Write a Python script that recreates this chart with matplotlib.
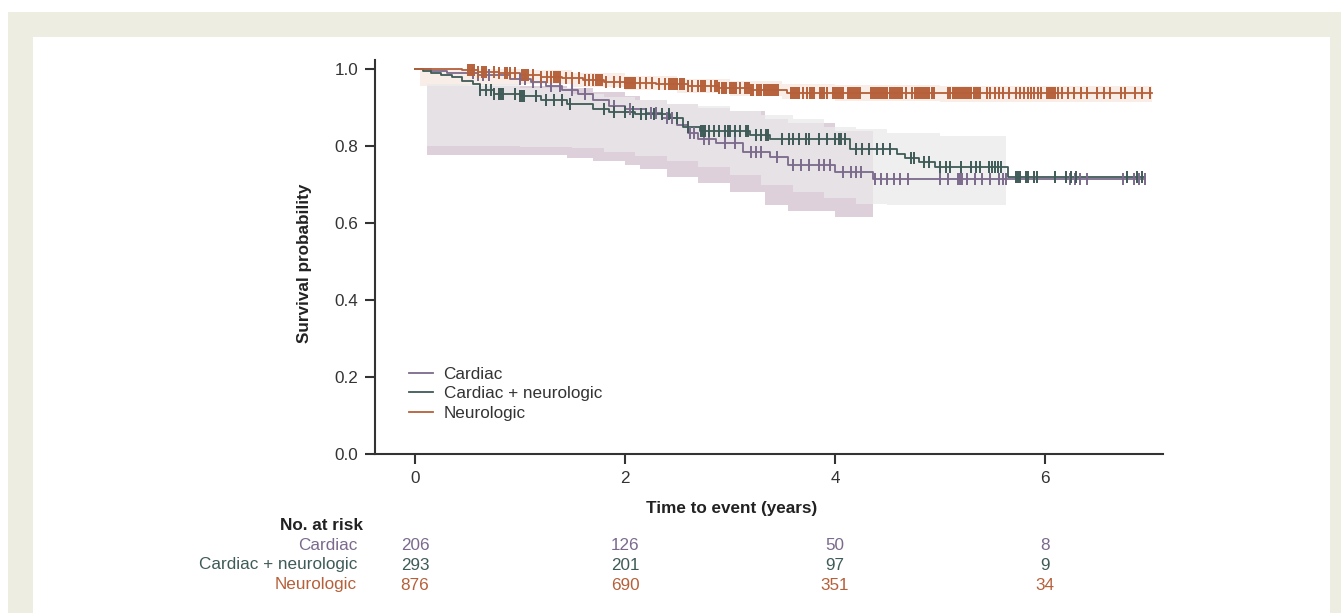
import numpy as np
import matplotlib
matplotlib.use('Agg')
import matplotlib.pyplot as plt
import matplotlib.transforms as mtransforms
from matplotlib.patches import Rectangle

plt.rcParams['font.family'] = ['Liberation Sans', 'DejaVu Sans']

# Kaplan-Meier steps (time in years, survival)
card_t = [0, 0.15, 0.3, 0.6, 0.9, 1.1, 1.25, 1.4, 1.55, 1.7, 1.85, 2.0, 2.2, 2.35, 2.5,
          2.6, 2.7, 2.87, 3.12, 3.38, 3.55, 4.0, 4.36, 6.95]
card_s = [1.0, 0.995, 0.99, 0.985, 0.975, 0.965, 0.955, 0.945, 0.935, 0.92, 0.905, 0.895,
          0.885, 0.872, 0.855, 0.835, 0.818, 0.808, 0.785, 0.772, 0.75, 0.732, 0.715, 0.715]

cn_t = [0, 0.08, 0.15, 0.25, 0.35, 0.45, 0.55, 0.62, 0.75, 1.0, 1.2, 1.45, 1.7, 1.85, 2.1,
        2.43, 2.55, 2.71, 3.19, 3.38, 4.14, 4.59, 4.67, 4.8, 4.95, 5.65, 6.95]
cn_s = [1.0, 0.995, 0.99, 0.985, 0.978, 0.97, 0.96, 0.945, 0.935, 0.93, 0.92, 0.91, 0.895,
        0.888, 0.882, 0.873, 0.85, 0.84, 0.829, 0.818, 0.792, 0.779, 0.769, 0.758, 0.745,
        0.72, 0.72]

neu_t = [0, 0.45, 0.6, 0.8, 1.0, 1.2, 1.4, 1.6, 1.8, 2.0, 2.3, 2.6, 2.9, 3.2, 3.54, 7.02]
neu_s = [1.0, 0.997, 0.993, 0.99, 0.985, 0.98, 0.976, 0.971, 0.966, 0.963, 0.96, 0.955,
         0.95, 0.945, 0.938, 0.938]

# censoring marks
card_cens = [0.55, 0.6, 0.65, 0.7, 1.0, 1.05, 1.12, 1.2, 1.3, 1.38, 1.5, 1.62, 1.9, 2.05, 2.25,
             2.3, 2.4, 2.45, 2.62, 2.66, 2.75, 2.8, 2.95, 3.05, 3.2, 3.25, 3.3, 3.45, 3.6,
             3.68, 3.75, 3.85, 3.9, 3.95, 4.08, 4.15, 4.2, 4.25, 4.38, 4.44, 4.5, 4.56, 4.62,
             4.7, 5.0, 5.08, 5.17, 5.19, 5.21, 5.26, 5.33, 5.4, 5.48, 5.56, 5.6, 5.63, 6.24,
             6.29, 6.33, 6.4, 6.74, 6.85, 6.9, 6.95]
cn_cens = [0.62, 0.68, 0.72, 0.75, 0.8, 0.82, 0.84, 0.95, 1.0, 1.02, 1.04, 1.15, 1.25, 1.32,
           1.4, 1.48, 1.8, 1.9, 2.0, 2.08, 2.15, 2.2, 2.28, 2.35, 2.42, 2.5, 2.6, 2.72, 2.74,
           2.76, 2.8, 2.85, 2.9, 2.95, 2.98, 3.0, 3.05, 3.1, 3.15, 3.17, 3.25, 3.3, 3.34,
           3.36, 3.5, 3.56, 3.6, 3.66, 3.72, 3.75, 3.85, 3.92, 4.0, 4.04, 4.06, 4.1, 4.2,
           4.26, 4.32, 4.4, 4.46, 4.52, 4.72, 4.75, 4.85, 4.9, 5.0, 5.06, 5.1, 5.2, 5.3,
           5.34, 5.38, 5.47, 5.5, 5.52, 5.55, 5.58, 5.72, 5.74, 5.76, 5.82, 5.84, 5.9,
           5.92, 6.1, 6.2, 6.25, 6.3, 6.78, 6.88, 6.92]
neu_cens = [0.5, 0.52, 0.54, 0.56, 0.6, 0.64, 0.66, 0.68, 0.75, 0.8, 0.86, 0.88, 0.9, 0.95,
            1.02, 1.04, 1.06, 1.08, 1.12, 1.2, 1.26, 1.3, 1.32, 1.34, 1.36, 1.38, 1.44,
            1.5, 1.56, 1.62, 1.66, 1.7, 1.72, 1.74, 1.76, 1.78, 1.82, 1.9, 1.95, 2.0,
            2.02, 2.04, 2.06, 2.08, 2.1, 2.14, 2.2, 2.26, 2.32, 2.38, 2.42, 2.44, 2.46,
            2.48, 2.5, 2.52, 2.54, 2.56, 2.6, 2.64, 2.7, 2.72, 2.74, 2.76, 2.82, 2.86,
            2.88, 2.9, 2.92, 2.94, 2.96, 3.0, 3.02, 3.04, 3.06, 3.1, 3.14, 3.16, 3.18,
            3.2, 3.22, 3.26, 3.28, 3.3, 3.32, 3.34, 3.36, 3.38, 3.4, 3.42, 3.44, 3.46,
            3.58, 3.6, 3.62, 3.64, 3.66, 3.7, 3.73, 3.76, 3.78, 3.8, 3.86, 3.88, 3.9,
            3.92, 3.98, 4.0, 4.02, 4.04, 4.06, 4.08, 4.12, 4.14, 4.16, 4.18, 4.2, 4.22,
            4.24, 4.34, 4.36, 4.38, 4.4, 4.42, 4.44, 4.46, 4.48, 4.5, 4.52, 4.54, 4.56,
            4.58, 4.6, 4.62, 4.64, 4.68, 4.73, 4.76, 4.78, 4.8, 4.82, 4.84, 4.86, 4.88,
            4.9, 4.92, 4.94, 5.08, 5.1, 5.12, 5.14, 5.16, 5.18, 5.2, 5.22, 5.24, 5.26,
            5.28, 5.3, 5.32, 5.34, 5.36, 5.38, 5.45, 5.48, 5.52, 5.56, 5.6, 5.66, 5.72,
            5.76, 5.8, 5.84, 5.87, 5.9, 5.93, 5.96, 6.02, 6.04, 6.06, 6.08, 6.1, 6.12,
            6.16, 6.22, 6.28, 6.34, 6.4, 6.5, 6.56, 6.62, 6.72, 6.76, 6.86, 6.92, 7.0]

# shaded bands
neu_band_t = [0.05, 0.5, 1.0, 1.5, 2.0, 2.5, 3.0, 3.5, 4.0, 5.0, 6.0, 7.02]
neu_band_lo = [0.955, 0.958, 0.96, 0.952, 0.945, 0.938, 0.93, 0.922, 0.918, 0.915, 0.915, 0.915]
neu_band_hi = [1.0, 1.0, 0.997, 0.99, 0.982, 0.975, 0.968, 0.962, 0.958, 0.955, 0.955, 0.955]

card_band_t = [0.11, 1.45, 1.7, 2.0, 2.14, 2.4, 2.7, 3.0, 3.33, 3.55, 4.0, 4.36]
card_band_lo = [0.777, 0.77, 0.76, 0.75, 0.74, 0.72, 0.704, 0.68, 0.647, 0.63, 0.616, 0.616]
card_band_hi = [0.955, 0.95, 0.94, 0.93, 0.92, 0.91, 0.9, 0.89, 0.87, 0.86, 0.84, 0.84]

cn_band_t = [0.11, 1.0, 1.5, 1.8, 2.1, 2.4, 2.7, 3.0, 3.3, 3.6, 3.9, 4.2, 4.5, 5.0, 5.63]
cn_band_lo = [0.80, 0.798, 0.795, 0.785, 0.775, 0.76, 0.745, 0.725, 0.70, 0.68, 0.665,
              0.65, 0.647, 0.647, 0.647]
cn_band_hi = [0.96, 0.95, 0.935, 0.928, 0.92, 0.91, 0.905, 0.89, 0.88, 0.87, 0.85, 0.845,
              0.835, 0.825, 0.825]

groups = ['Cardiac', 'Cardiac + neurologic', 'Neurologic']
risk_times = [0, 2, 4, 6]
risk_card = [206, 126, 50, 8]
risk_cn = [293, 201, 97, 9]
risk_neu = [876, 690, 351, 34]

c_card = '#7b6a8c'
c_cn = '#3f5b57'
c_neu = '#b5603a'
dark = '#333333'
fs = 12.3

F1 = plt.figure(figsize=(13.41, 6.13), dpi=100)
F1.patch.set_facecolor('white')
W, H = 1341.0, 613.0
beige = '#eeede2'
# frame around the figure
F1.patches.append(Rectangle((8/W, 0), (W-8)/W, (H-12)/H, transform=F1.transFigure,
                            facecolor=beige, edgecolor='none', zorder=-10))
F1.patches.append(Rectangle((33/W, 0), (1330-33)/W, (H-37)/H, transform=F1.transFigure,
                            facecolor='white', edgecolor='none', zorder=-9))

ax = F1.add_axes([375/W, 1-454/H, (1163-375)/W, (454-60)/H])
ax.set_facecolor('none')

ax.fill_between(neu_band_t, neu_band_lo, neu_band_hi, step='post', color='#f8eee7', lw=0, zorder=1)
ax.fill_between(card_band_t, card_band_lo, card_band_hi, step='post', color='#ddd0da', lw=0, zorder=2)
ax.fill_between(cn_band_t, cn_band_lo, cn_band_hi, step='post', color='#eaeaea', alpha=0.72, lw=0, zorder=3)

lw = 1.3
for tt, ss, cens, col, lab in [(card_t, card_s, card_cens, c_card, groups[0]),
                               (cn_t, cn_s, cn_cens, c_cn, groups[1]),
                               (neu_t, neu_s, neu_cens, c_neu, groups[2])]:
    ax.step(tt, ss, where='post', color=col, lw=lw, label=lab, zorder=5)
    idx = np.searchsorted(tt, cens, side='right') - 1
    ax.plot(cens, np.array(ss)[idx], ls='none', marker='|', ms=9, mew=1.4, color=col, zorder=6)

ax.set_xlim(-0.381, 7.124)
ax.set_ylim(0, 1.0234)
ax.set_xticks([0, 2, 4, 6])
ax.set_yticks([0.0, 0.2, 0.4, 0.6, 0.8, 1.0])
ax.set_yticklabels(['0.0', '0.2', '0.4', '0.6', '0.8', '1.0'])
for axis in ['top', 'right']:
    ax.spines[axis].set_visible(False)
for axis in ['left', 'bottom']:
    ax.spines[axis].set_linewidth(1.5)
    ax.spines[axis].set_color(dark)
ax.tick_params(width=1.5, length=7, color=dark, labelsize=fs, labelcolor=dark, pad=5)

leg = ax.legend(loc='upper left', bbox_to_anchor=(0.035, 0.238), frameon=False, fontsize=fs,
                handlelength=1.4, handletextpad=0.6, labelspacing=0.25, borderaxespad=0)
for t in leg.get_texts():
    t.set_color(dark)

F1.text(305/W, 1-263/H, 'Survival probability', rotation=90, ha='center', va='center',
        fontsize=fs, fontweight='bold', color='#222222')
F1.text(732/W, 1-508/H, 'Time to event (years)', ha='center', va='center',
        fontsize=fs, fontweight='bold', color='#222222')
F1.text(363/W, 1-525/H, 'No. at risk', ha='right', va='center',
        fontsize=fs, fontweight='bold', color='#222222')

trans = mtransforms.blended_transform_factory(ax.transData, F1.transFigure)
rows_y = [545, 565, 585]
for lab, counts, col, yy in zip(groups, [risk_card, risk_cn, risk_neu], [c_card, c_cn, c_neu], rows_y):
    F1.text(357/W, 1-yy/H, lab, ha='right', va='center', fontsize=fs, color=col)
    for tx, n in zip(risk_times, counts):
        ax.text(tx, 1-yy/H, str(n), transform=trans, ha='center', va='center',
                fontsize=fs, color=col, clip_on=False)

plt.savefig('out.png', dpi=100, facecolor=F1.get_facecolor())
